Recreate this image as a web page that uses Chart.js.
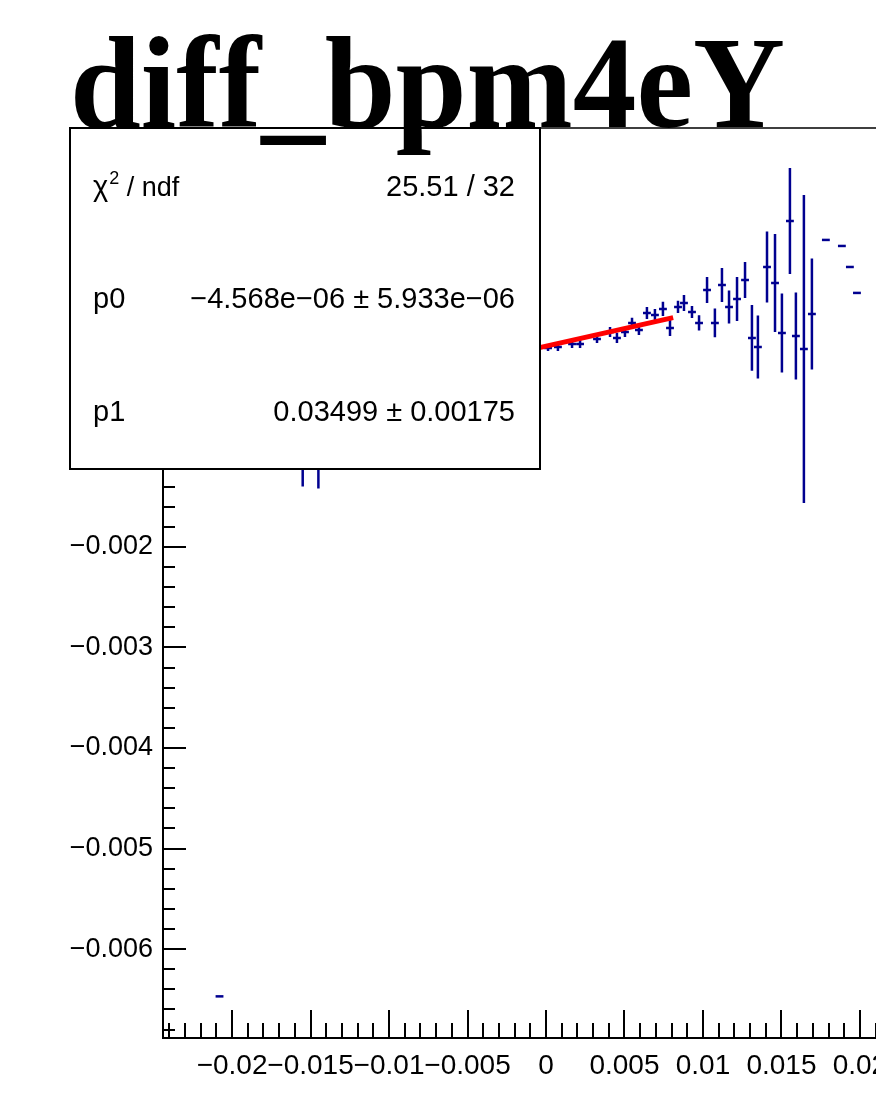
<!DOCTYPE html>
<html>
<head>
<meta charset="utf-8">
<title>diff_bpm4eY</title>
<script src="https://cdn.jsdelivr.net/npm/chart.js@4.4.1/dist/chart.umd.min.js"></script>
<style>
  html, body { margin: 0; padding: 0; background: #fff; overflow: hidden; }
  #wrap { position: relative; width: 960px; height: 1097px; }
</style>
</head>
<body>
<div id="wrap"><canvas id="chart" width="960" height="1097"></canvas></div>
<script>
/* =========================
  Data
========================= */
const binX = [
  -0.0208, -0.0155, -0.0145,
  0.00013, 0.00076, 0.00166, 0.00217, 0.00325, 0.00408, 0.00452, 0.00503,
  0.00548, 0.00592, 0.00643, 0.00694, 0.00745, 0.0079, 0.00841, 0.00879,
  0.0093, 0.00975, 0.01026, 0.01076, 0.01121, 0.01166, 0.01217, 0.01268,
  0.01312, 0.0135, 0.01408, 0.01459, 0.01503, 0.01554, 0.01592, 0.01643,
  0.01694, 0.01783, 0.01885, 0.01936, 0.01981
];
const binY = [
  -0.00647, -0.00054, -0.00054,
  -0.000022, -0.000012, 0.000018, 0.000018, 0.000068, 0.000137, 0.000078, 0.000137,
  0.000227, 0.000157, 0.000326, 0.000306, 0.000366, 0.000177, 0.000386, 0.000425,
  0.000336, 0.000227, 0.000555, 0.000227, 0.000604, 0.000386, 0.000465, 0.000654,
  0.000078, -0.000012, 0.000783, 0.000624, 0.000127, 0.00124, 0.000097, -0.000032,
  0.000316, 0.001052, 0.000992, 0.000783, 0.000525
];
const binErrY = [
  0, 0.00086, 0.00088,
  0.00003, 0.00004, 0.00004, 0.00004, 0.00004, 0.00005, 0.00005, 0.00005,
  0.00005, 0.00005, 0.00006, 0.00006, 0.00007, 0.00008, 0.00006, 0.00008,
  0.00006, 0.000075, 0.000129, 0.000144, 0.000169, 0.000164, 0.000219, 0.000179,
  0.000328, 0.000313, 0.000353, 0.000487, 0.000393, 0.000527, 0.000432, 0.001531,
  0.000552, 0, 0, 0, 0
];
const binHalfWidth = 0.00025;

// fit pol1 end points
const fitX = [-0.0085, 0.0081];
const fitY = [-0.000302, 0.000279];

const xTickValues = [-0.02, -0.015, -0.01, -0.005, 0, 0.005, 0.01, 0.015, 0.02];
const xTickLabels = ["\u22120.02", "\u22120.015", "\u22120.01", "\u22120.005", "0", "0.005", "0.01", "0.015", "0.02"];
const yTickValues = [-0.006, -0.005, -0.004, -0.003, -0.002, -0.001, 0, 0.001, 0.002];
const yTickLabels = ["\u22120.006", "\u22120.005", "\u22120.004", "\u22120.003", "\u22120.002", "\u22120.001", "0", "0.001", "0.002"];

const statValues = ["25.51 / 32", "\u22124.568e\u221206 \u00b1 5.933e\u221206", "0.03499 \u00b1 0.00175"];
const titleText = "diff_bpm4eY";

const xMin = -0.0244, xMax = 0.0244;
const yMin = -0.006884, yMax = 0.002165;

const SANS = "'Liberation Sans', Arial, sans-serif";

/* =========================
  ROOT-like drawing plugin
========================= */
const rootStyle = {
  id: "rootStyle",
  beforeDatasetsDraw(chart) {
    const { ctx, chartArea: a, scales: { x, y } } = chart;
    ctx.save();
    ctx.beginPath();
    ctx.rect(a.left, a.top, a.right - a.left, a.bottom - a.top);
    ctx.clip();
    ctx.strokeStyle = "#000090";
    ctx.lineWidth = 2.5;
    chart.data.datasets[0].data.forEach(p => {
      const px = x.getPixelForValue(p.x);
      const py = y.getPixelForValue(p.y);
      ctx.beginPath();
      ctx.moveTo(x.getPixelForValue(p.x - binHalfWidth), py);
      ctx.lineTo(x.getPixelForValue(p.x + binHalfWidth), py);
      if (p.ey > 0) {
        ctx.moveTo(px, y.getPixelForValue(p.y + p.ey));
        ctx.lineTo(px, y.getPixelForValue(p.y - p.ey));
      }
      ctx.stroke();
    });
    ctx.restore();
  },
  afterDraw(chart) {
    const { ctx, chartArea: a, scales: { x, y } } = chart;
    ctx.save();

    // frame + axes
    ctx.strokeStyle = "#000";
    ctx.lineWidth = 1.5;
    ctx.beginPath();
    ctx.moveTo(a.left, a.top); ctx.lineTo(a.right, a.top); ctx.lineTo(a.right, a.bottom);
    ctx.stroke();
    ctx.lineWidth = 2;
    ctx.beginPath();
    ctx.moveTo(a.left, a.top); ctx.lineTo(a.left, a.bottom); ctx.lineTo(a.right, a.bottom);
    ctx.stroke();

    // y ticks (inside)
    ctx.beginPath();
    for (let k = -34; k <= 10; k++) {
      const v = k * 0.0002;
      if (v < yMin || v > yMax) continue;
      const py = Math.round(y.getPixelForValue(v));
      const len = k % 5 === 0 ? 23 : 12;
      ctx.moveTo(a.left, py); ctx.lineTo(a.left + len, py);
    }
    // x ticks (inside)
    for (let k = -24; k <= 24; k++) {
      const v = k * 0.001;
      const px = Math.round(x.getPixelForValue(v));
      const len = k % 5 === 0 ? 28 : 15;
      ctx.moveTo(px, a.bottom); ctx.lineTo(px, a.bottom - len);
    }
    ctx.stroke();

    // stats box
    const bx = 70, by = 128, bw = 470, bh = 341;
    ctx.fillStyle = "#fff";
    ctx.fillRect(bx, by, bw, bh);
    ctx.lineWidth = 2;
    ctx.strokeRect(bx, by, bw, bh);

    ctx.fillStyle = "#000";
    ctx.font = "29px " + SANS;
    ctx.textBaseline = "alphabetic";
    ctx.textAlign = "left";
    const rows = [196, 308, 421];
    // chi2 / ndf label
    let tx = 93;
    ctx.fillText("\u03c7", tx, rows[0]);
    tx += ctx.measureText("\u03c7").width + 1;
    ctx.font = "18px " + SANS;
    ctx.fillText("2", tx, rows[0] - 12);
    tx += ctx.measureText("2").width;
    ctx.font = "27px " + SANS;
    ctx.fillText(" / ndf", tx, rows[0]);
    ctx.font = "29px " + SANS;
    ctx.fillText("p0", 93, rows[1]);
    ctx.fillText("p1", 93, rows[2]);
    ctx.textAlign = "right";
    statValues.forEach((s, i) => ctx.fillText(s, 515, rows[i]));

    // title
    ctx.textAlign = "left";
    ctx.font = "bold 131px 'Liberation Serif', 'Times New Roman', serif";
    const w = ctx.measureText(titleText).width;
    ctx.translate(70, 127);
    ctx.scale(715 / w, 1);
    ctx.fillText(titleText, 0, 0);

    ctx.restore();
  }
};

/* =========================
  Chart
========================= */
const points = binX.map((v, i) => ({ x: v, y: binY[i], ey: binErrY[i] }));
const fitLine = fitX.map((v, i) => ({ x: v, y: fitY[i] }));

new Chart(document.getElementById("chart"), {
  type: "scatter",
  data: {
    datasets: [
      { data: points, pointRadius: 0, showLine: false },
      { data: fitLine, showLine: true, borderColor: "#ff0000", borderWidth: 5, pointRadius: 0, fill: false }
    ]
  },
  options: {
    responsive: false,
    animation: false,
    devicePixelRatio: 1,
    layout: { padding: { top: 128, right: 31, left: 0, bottom: 0 } },
    plugins: { legend: { display: false }, tooltip: { enabled: false } },
    scales: {
      x: {
        type: "linear", min: xMin, max: xMax,
        afterFit: s => { s.height = 59; },
        afterBuildTicks: s => { s.ticks = xTickValues.map(v => ({ value: v })); },
        grid: { display: false, drawTicks: false },
        border: { display: false },
        ticks: {
          autoSkip: false, maxRotation: 0, minRotation: 0, padding: 11,
          color: "#000", font: { family: SANS, size: 28 },
          callback: (v, i) => xTickLabels[i]
        }
      },
      y: {
        type: "linear", min: yMin, max: yMax,
        afterFit: s => { s.width = 163; },
        afterBuildTicks: s => { s.ticks = yTickValues.map(v => ({ value: v })); },
        grid: { display: false, drawTicks: false },
        border: { display: false },
        ticks: {
          padding: 10, color: "#000", font: { family: SANS, size: 27 },
          callback: (v, i) => yTickLabels[i]
        }
      }
    }
  },
  plugins: [rootStyle]
});
</script>
</body>
</html>
